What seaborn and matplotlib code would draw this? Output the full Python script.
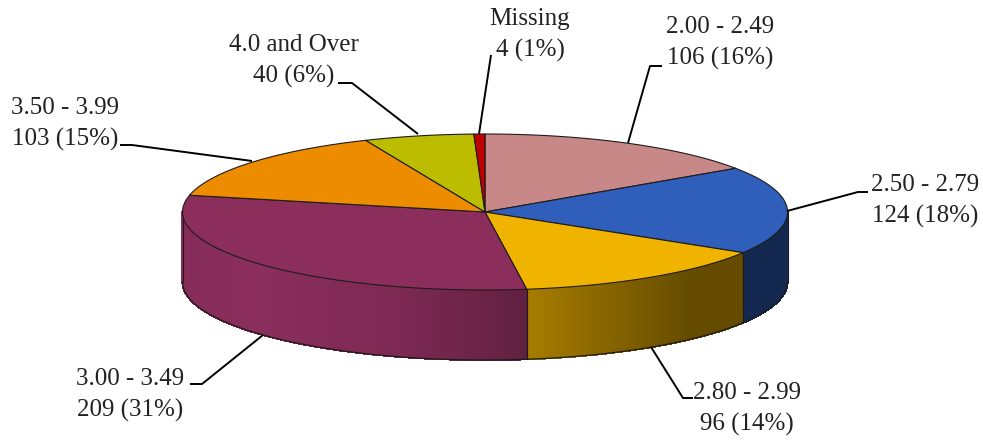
import numpy as np
import matplotlib
matplotlib.use("Agg")
import matplotlib.pyplot as plt
import seaborn as sns

categories = ["2.00 - 2.49", "2.50 - 2.79", "2.80 - 2.99", "3.00 - 3.49",
              "3.50 - 3.99", "4.0 and Over", "Missing"]
counts = [106, 124, 96, 209, 103, 40, 4]
percents = [16, 18, 14, 31, 15, 6, 1]
top_colors = ["#c88888", "#2f5fbb", "#efb300", "#8b2e5c",
              "#ee8c00", "#bcbc00", "#c00000"]

# label centre and leader line, all in image pixels
label_pos = [(720, 43), (925, 201), (747, 409), (130, 395), (65, 124), (294, 61), (530, 35)]
leaders = [
    [(628, 143), (650, 66), (662, 66)],
    [(787, 211), (858, 192), (868, 192)],
    [(651, 347), (683, 398), (693, 398)],
    [(263, 335), (202, 384), (190, 384)],
    [(252, 161), (132, 145), (120, 145)],
    [(418, 134), (352, 83), (338, 83)],
    [(479, 134), (491, 55)],
]

cx, cy, rx, ry, depth = 485, 212, 302.5, 78, 70
edge = "#1c1c1c"

# lighting across the rim, left to right
light_x = [182, 250, 400, 527, 690, 788]
light_f = [0.96, 1.0, 0.9, 0.7, 0.42, 0.42]

sns.set_theme(style="white")
plt.rcParams["font.family"] = ["Liberation Serif", "DejaVu Serif"]
palette = sns.color_palette(top_colors)

fig = plt.figure(figsize=(9.83, 4.40), dpi=100)
ax = fig.add_axes([0, 0, 1, 1])
ax.set_xlim(0, 983)
ax.set_ylim(440, 0)
ax.axis("off")


def rim(theta):
    return cx + rx * np.sin(theta), cy - ry * np.cos(theta)


edges = np.cumsum([0] + counts) / sum(counts) * 2 * np.pi

# rim first, only the front half shows
for i, col in enumerate(palette):
    a0, a1 = max(edges[i], np.pi / 2), min(edges[i + 1], 3 * np.pi / 2)
    if a1 <= a0:
        continue
    t = np.linspace(a0, a1, 300)
    x, y = rim(t)
    f = np.interp(x, light_x, light_f)
    for j in range(len(t) - 1):
        c = tuple(np.array(col) * f[j])
        ax.fill([x[j], x[j + 1], x[j + 1], x[j]],
                [y[j], y[j + 1], y[j + 1] + depth, y[j] + depth],
                color=c, lw=0.8, antialiased=False, zorder=2)
    ax.plot(x, y + depth, color=edge, lw=0.9, zorder=3)
    ax.plot([x[0], x[0]], [y[0], y[0] + depth], color=edge, lw=0.8, zorder=3)
    ax.plot([x[-1], x[-1]], [y[-1], y[-1] + depth], color=edge, lw=0.8, zorder=3)

# top face
for i, col in enumerate(palette):
    t = np.linspace(edges[i], edges[i + 1], 120)
    x, y = rim(t)
    ax.fill(np.r_[cx, x], np.r_[cy, y], facecolor=col, edgecolor=edge,
            lw=0.8, joinstyle="round", zorder=4)

# labels and leaders
for i, name in enumerate(categories):
    lx, ly = zip(*leaders[i])
    ax.plot(lx, ly, color="black", lw=1.4, zorder=5, solid_capstyle="butt")
    ax.text(label_pos[i][0], label_pos[i][1], f"{name}\n{counts[i]} ({percents[i]}%)",
            ha="center", va="center", fontsize=18, color="#222222",
            linespacing=1.5, zorder=6)

fig.savefig("out.png", dpi=100)
